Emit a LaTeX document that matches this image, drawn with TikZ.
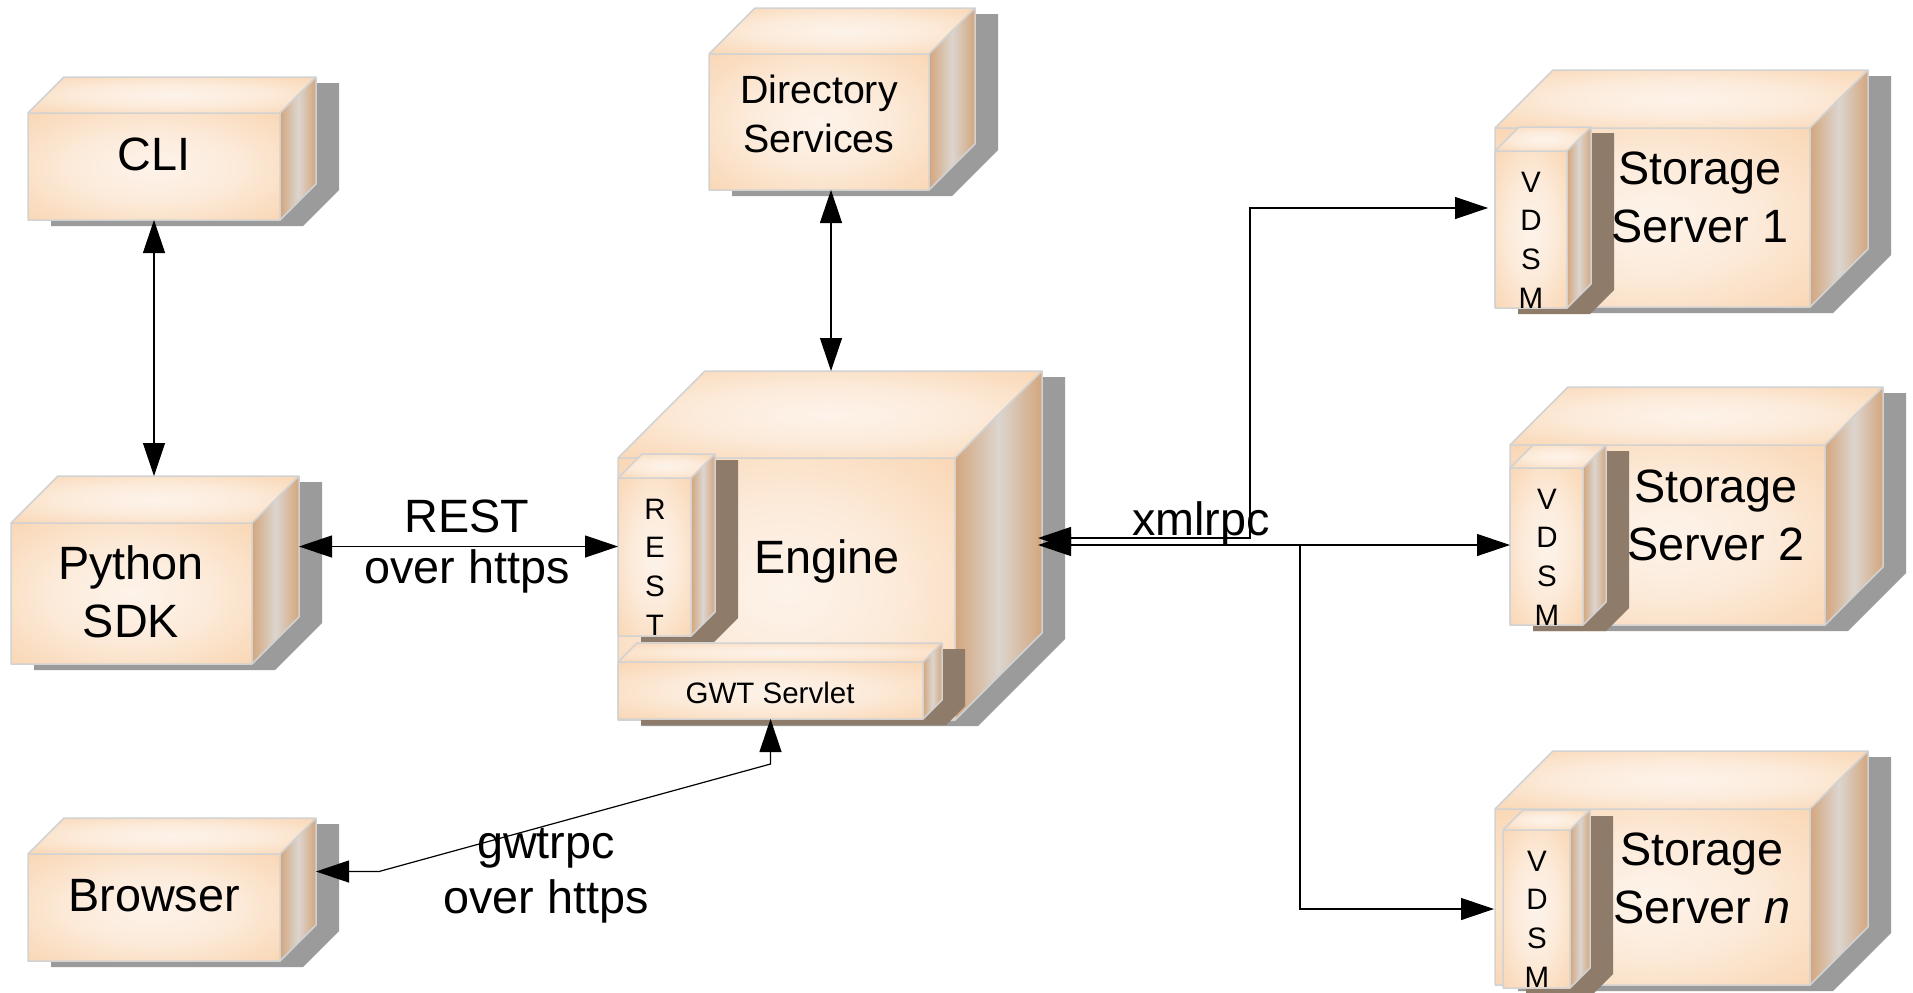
\documentclass[tikz,border=0pt]{standalone}
\usepackage{fontspec}
\setmainfont{Liberation Sans}
\usetikzlibrary{arrows.meta,calc}

\definecolor{peach}{HTML}{F8CA9C}
\definecolor{peachhi}{HTML}{FDF3EA}
\definecolor{tan}{HTML}{D3A67D}
\definecolor{tanhi}{HTML}{DCD5CF}
\definecolor{rimgray}{HTML}{D2D2D2}
\definecolor{boxshadow}{HTML}{9B9B9B}
\definecolor{subshadow}{HTML}{8E7B6A}

\pgfdeclareradialshading{boxglow}{\pgfpoint{0bp}{0bp}}{color(0bp)=(peachhi); color(16bp)=(peachhi!80!peach); color(34bp)=(peachhi!35!peach); color(50bp)=(peach)}

\tikzset{
  frontface/.style={shading=boxglow},
  topface/.style={shading=boxglow},
  sideface/.style={left color=tan, right color=tan, middle color=tanhi},
  rim/.style={draw=rimgray, line width=0.15mm, line join=round},
  big/.style={font=\fontsize{13.3pt}{16.3pt}\selectfont, align=center, inner sep=0, anchor=base},
  mid/.style={font=\fontsize{11.2pt}{13.9pt}\selectfont, align=center, inner sep=0, anchor=base},
  small/.style={font=\fontsize{8.4pt}{11pt}\selectfont, align=center, inner sep=0, anchor=base},
  wire/.style={line width=0.12mm}
}

% #1 name, #2 x, #3 y (front top left), #4 width, #5 height, #6 depth, #7 shadow colour
\newcommand{\cuboid}[7]{%
  \fill[#7] (#2+#6+23,#3-#6+6) -- ++(#4,0) -- ++(0,#5) -- ++(-#6,#6) -- ++(-#4,0) -- ++(0,-#5) -- cycle;
  \shade[sideface] (#2+#4,#3) -- ++(#6,-#6) -- ++(0,#5) -- ++(-#6,#6) -- cycle;
  \shade[topface] (#2,#3) -- ++(#6,-#6) -- ++(#4,0) -- ++(-#6,#6) -- cycle;
  \shade[frontface] (#2,#3) rectangle ++(#4,#5);
  \draw[rim] (#2,#3) rectangle ++(#4,#5) (#2,#3) -- ++(#6,-#6) -- ++(#4,0) -- ++(0,#5) -- ++(-#6,#6)
    (#2+#4,#3) -- ++(#6,-#6);
  \node[inner sep=0, outer sep=0, minimum width=#4*0.1mm, minimum height=#5*0.1mm] (#1) at (#2+#4/2,#3+#5/2) {};
  \coordinate (#1 top) at (#2+#6+#4/2,#3-#6);
  \coordinate (#1 east) at (#2+#4+#6,#3+#5/2-#6);
}

\begin{document}
\begin{tikzpicture}[x=0.1mm, y=-0.1mm, >={Triangle[length=3.3mm,width=2.2mm]}]
\useasboundingbox (0,0) rectangle (1913,992);

% left column
\cuboid{cli}{28}{113}{252}{107}{36}{boxshadow}
\node[big] (clitxt) at (154,170) {CLI};
\cuboid{python}{11}{523}{241}{141}{47}{boxshadow}
\node[big] (pythontxt) at (131,637) {Python\\SDK};
\cuboid{browser}{28}{854}{252}{107}{36}{boxshadow}
\node[big] (browsertxt) at (154,911) {Browser};

% middle column
\cuboid{dir}{709}{54}{220}{136}{46}{boxshadow}
\node[mid] (dirtxt) at (819,152) {Directory\\Services};
\cuboid{engine}{618}{458}{337}{262}{87}{boxshadow}
\cuboid{rest}{618}{478}{73}{158}{24}{subshadow}
\node[small] (resttxt) at (655,635) {R\\E\\S\\T};
\cuboid{gwt}{618}{662}{305}{57}{19}{subshadow}
\node[small] (gwttxt) at (770,703) {GWT Servlet};
\node[big] (enginetxt) at (827,573) {Engine};

% storage servers
\cuboid{ss1}{1495}{128}{315}{179}{58}{boxshadow}
\cuboid{vdsm1}{1495}{151}{72}{157}{24}{subshadow}
\node[small] (vdsm1txt) at (1531,308) {V\\D\\S\\M};
\node[big] (ss1txt) at (1700,242) {Storage\\Server 1};
\cuboid{ss2}{1510}{445}{315}{180}{58}{boxshadow}
\cuboid{vdsm2}{1510}{468}{73}{157}{23}{subshadow}
\node[small] (vdsm2txt) at (1547,625) {V\\D\\S\\M};
\node[big] (ss2txt) at (1716,560) {Storage\\Server 2};
\cuboid{ssn}{1495}{809}{315}{176}{58}{boxshadow}
\cuboid{vdsmn}{1503}{830}{67}{158}{20}{subshadow}
\node[small] (vdsmntxt) at (1537,987) {V\\D\\S\\M};
\node[big] (ssntxt) at (1702,923) {Storage\\Server \textit{n}};

% connectors
\draw[wire, <->] (cli.south) -- (cli.south |- python top);
\draw[wire, <->] ([xshift=1.2mm]dir.south) -- ([xshift=1.2mm]dir.south |- engine top);
\draw[wire, <->] (python east) -- (python east -| engine.west);
\node[big, font=\fontsize{13.3pt}{14.3pt}\selectfont] (restlbl) at (467,583) {REST\\over https};
\draw[wire, <->] (browser east) -- ++(63,0) -- ($(gwt.south)+(0,45)$) -- (gwt.south);
\node[big, font=\fontsize{13.3pt}{15.6pt}\selectfont] (gwtlbl) at (546,913) {gwtrpc\\over https};

\coordinate (xmlhi) at (1038,538);
\coordinate (xmllo) at (1038,545);
\coordinate (split) at (1300,545);
\draw[wire, <->] (xmlhi) -- ++(212,0) |- ([xshift=-0.7mm, yshift=2.15mm]vdsm1.west);
\draw[wire, <->] (xmllo) -- (xmllo -| vdsm2.west);
\draw[wire, ->] (split) |- ([xshift=-0.9mm]vdsmn.west);
\node[big] (xmllbl) at (1201,535) {xmlrpc};
\end{tikzpicture}
\end{document}
